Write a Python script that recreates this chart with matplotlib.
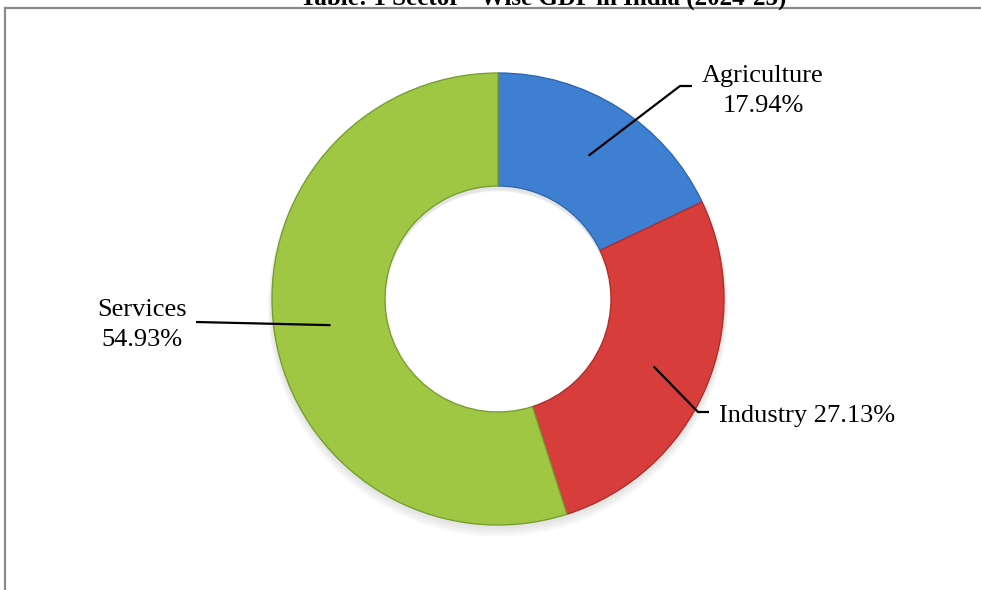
import numpy as np
import matplotlib
matplotlib.use("Agg")
import matplotlib.pyplot as plt
from matplotlib.patches import Wedge
from matplotlib.lines import Line2D

# ---- data ----
sectors = ["Agriculture", "Industry", "Services"]
shares = [17.94, 27.13, 54.93]
label_texts = ["Agriculture\n17.94%", "Industry 27.13%", "Services\n54.93%"]
colors = ["#3f7fd1", "#d63d3b", "#9fc744"]
edge_colors = ["#3068b0", "#b02e2c", "#779f30"]
title = "Table: 1 Sector - Wise GDP in India (2024-25)"

W, H = 981, 590
fig = plt.figure(figsize=(W / 100, H / 100), dpi=100)
ax = fig.add_axes([0, 0, 1, 1])
ax.set_xlim(0, W)
ax.set_ylim(0, H)
ax.axis("off")

serif = ["Liberation Serif", "DejaVu Serif"]

cx, cy = 498, H - 299
R = 226
ring = 113

# soft shadow under the donut
for i in range(4):
    ax.add_patch(Wedge((cx, cy - 3 - i * 1.5), R + 1 + i, 0, 360, width=ring + 2,
                       facecolor="#808080", edgecolor="none", alpha=0.05, zorder=1))

wedges, _ = ax.pie(shares, startangle=90, counterclock=False, colors=colors,
                   radius=R, center=(cx, cy), frame=True,
                   wedgeprops=dict(width=ring, linewidth=1.0))
for w, ec in zip(wedges, edge_colors):
    w.set_edgecolor(ec)
    w.set_zorder(2)

ax.set_xlim(0, W)
ax.set_ylim(0, H)
ax.set_aspect("auto")
ax.axis("off")

# leader lines & labels
mid_r = R - ring / 2
label_cfg = {
    # elbow x, elbow y (from top), end x, text x, first baseline (from top), ha
    0: (680, 86, 692, 763, 82, "center"),
    1: (698, 412, 709, 719, 422, "left"),
    2: (196, 322, 196, 142, 316, "center"),
}
for i, w in enumerate(wedges):
    ang = np.deg2rad((w.theta1 + w.theta2) / 2)
    px = cx + mid_r * np.cos(ang)
    py = cy + mid_r * np.sin(ang)
    ex, ey, endx, tx, ty, ha = label_cfg[i]
    ax.add_line(Line2D([px, ex, endx], [py, H - ey, H - ey], color="black",
                       lw=1.6, zorder=5, solid_capstyle="butt"))
    for k, line in enumerate(label_texts[i].split("\n")):
        ax.text(tx, H - (ty + 30 * k), line, ha=ha, va="baseline", fontsize=19,
                family=serif, color="black", zorder=6)

# frame lines
ax.add_line(Line2D([5, W], [H - 8, H - 8], color="#8a8a8a", lw=1.6, zorder=7))
ax.add_line(Line2D([5, 5], [0, H - 8], color="#8a8a8a", lw=1.6, zorder=7))

# clipped title
fig.text(543 / W, 1 - 5 / H, title, ha="center", va="baseline", fontsize=18,
         fontweight="bold", family=serif, color="black")

fig.savefig("out.png", dpi=100)
